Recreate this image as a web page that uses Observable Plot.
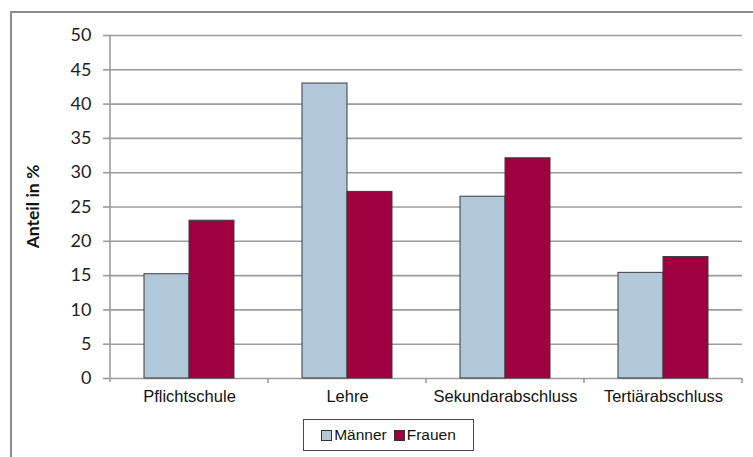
<!DOCTYPE html>
<html><head><meta charset="utf-8">
<script src="https://cdn.jsdelivr.net/npm/d3@7"></script>
<script src="https://cdn.jsdelivr.net/npm/@observablehq/plot@0.6"></script>
<style>
html,body{margin:0;padding:0;background:#fff;}
#wrap{position:relative;width:753px;height:457px;overflow:hidden;background:#fff;}
#frame{position:absolute;left:10px;top:11px;width:800px;height:500px;border:2px solid #8c8c8c;box-sizing:border-box;}
#chart{position:absolute;left:0;top:0;}
#chart svg{background:transparent !important;}
#legend{position:absolute;left:303px;top:419px;width:171px;height:32px;border:1px solid #4a4a4a;box-sizing:border-box;background:#fff;
 font-family:"Liberation Sans",Arial,sans-serif;font-size:15.5px;color:#111;display:flex;align-items:center;justify-content:center;gap:7px;}
#legend .item{display:flex;align-items:center;}
#legend .sw{width:9px;height:9px;border:1px solid #333;margin-right:2px;}
.yt text{font-family:Lato,sans-serif !important;font-size:18px !important;fill:#222;}
.fxt text{font-family:"Liberation Sans",Arial,sans-serif !important;font-size:16.5px !important;fill:#111;}
</style>
</head><body>
<div id="wrap">
  <div id="frame"></div>
  <div id="chart"></div>
  <div id="legend"></div>
</div>
<script>
const categories = ["Pflichtschule", "Lehre", "Sekundarabschluss", "Tertiärabschluss"];
const series = ["Männer", "Frauen"];
const maenner = [15.2, 43.0, 26.5, 15.4];
const frauen = [23.0, 27.2, 32.1, 17.7];
const colors = ["#b0c8d8", "#9e0042"];
const yTicks = [0, 5, 10, 15, 20, 25, 30, 35, 40, 45, 50];
const yLabel = "Anteil in %";

const data = categories.flatMap((c, i) => [
  {cat: c, s: series[0], v: maenner[i]},
  {cat: c, s: series[1], v: frauen[i]}
]);

const plot = Plot.plot({
  width: 753, height: 410,
  marginLeft: 110, marginRight: 11, marginTop: 35, marginBottom: 32,
  style: {background: "transparent", overflow: "visible"},
  fx: {domain: categories, paddingInner: 0, paddingOuter: 0, label: null},
  x: {domain: series, paddingInner: 0, paddingOuter: 0.736, axis: null},
  y: {domain: [0, 50], ticks: yTicks, axis: null},
  color: {domain: series, range: colors},
  marks: [
    Plot.gridY(yTicks, {stroke: "#9c9c9c", strokeOpacity: 1, strokeWidth: 1.6}),
    Plot.barY(data, {fx: "cat", x: "s", y: "v", fill: "s", stroke: "#3a3a3a", strokeWidth: 1}),
    Plot.axisY(yTicks, {tickSize: 7, tickPadding: 12, stroke: "#9c9c9c", strokeWidth: 1.6, className: "yt", label: null, fontSize: 18}),
    Plot.axisFx({anchor: "bottom", tickSize: 0, tickPadding: 12, label: null, className: "fxt", fontSize: 16.5})
  ]
});
document.getElementById("chart").appendChild(plot);

// axis line, category boundary ticks and rotated y label, placed by the library's scales
const svg = d3.select(plot);
const y = plot.scale("y");
const fx = plot.scale("fx");
const x0 = 110;
svg.append("line").attr("x1", x0).attr("x2", x0).attr("y1", y.apply(50)).attr("y2", y.apply(0) + 4)
  .attr("stroke", "#9c9c9c").attr("stroke-width", 1.6);
categories.forEach(c => {
  const xb = fx.apply(c) + fx.bandwidth;
  svg.append("line").attr("x1", xb).attr("x2", xb).attr("y1", y.apply(0)).attr("y2", y.apply(0) + 5)
    .attr("stroke", "#9c9c9c").attr("stroke-width", 1.6);
});
svg.append("text")
  .attr("transform", `translate(39,${(y.apply(0) + y.apply(50)) / 2}) rotate(-90)`)
  .attr("text-anchor", "middle")
  .attr("font-family", "Lato, sans-serif").attr("font-weight", "bold").attr("font-size", 17.5)
  .attr("fill", "#111").text(yLabel);

// legend
const lg = d3.select("#legend");
series.forEach((s, i) => {
  const it = lg.append("div").attr("class", "item");
  it.append("div").attr("class", "sw").style("background", colors[i]);
  it.append("span").text(s);
});
</script>
</body></html>
